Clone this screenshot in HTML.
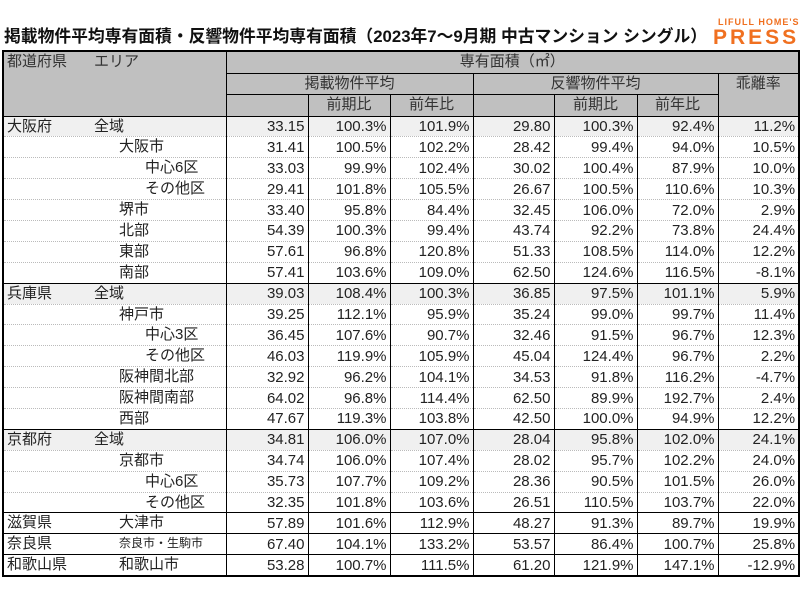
<!DOCTYPE html>
<html><head><meta charset="utf-8"><style>
body{margin:0;width:800px;height:600px;background:#fff;position:relative;overflow:hidden;font-family:"Liberation Sans","Noto Sans CJK JP",sans-serif;color:#222}
.title{position:absolute;left:4px;top:23px;font-size:16.8px;font-weight:bold;color:#111;white-space:nowrap;letter-spacing:0px}
.logo1{position:absolute;left:718px;top:17px;font-size:9px;font-weight:bold;color:#f07020;letter-spacing:1px;white-space:nowrap;background:#fff}
.logo2{position:absolute;left:713px;top:27px;font-size:21px;line-height:22px;font-weight:bold;color:#f07020;letter-spacing:3px;background:#fff}
table{position:absolute;left:2px;top:50px;border-collapse:collapse;table-layout:fixed;width:796px;border:2px solid #000;font-size:15px}
td{padding:0 3px;white-space:nowrap;overflow:hidden;border-left:1px solid #000;text-align:right;height:19.9px;line-height:19px;border-top:1px dotted #bbb}
tr.h td{background:#c0c0c0;text-align:center;border:1px solid #000;height:20.5px;line-height:20px;color:#333}
td.l{position:relative;text-align:left;border-left:none;padding:0}
td.l span{position:absolute;top:0}
tr.g td{background:#f0f0f0;border-top:1px solid #000}
tr.s td{border-top:1px solid #000}
.p{left:3px}.a{left:90px}.b{left:115px}.c{left:141px}
</style></head><body>
<div class="title">掲載物件平均専有面積・反響物件平均専有面積（2023年7～9月期 中古マンション シングル）</div>
<div class="logo1">LIFULL HOME'S</div>
<div class="logo2">PRESS</div>
<table>
<colgroup><col style="width:223px"><col style="width:82px"><col style="width:82px"><col style="width:83px"><col style="width:81px"><col style="width:83px"><col style="width:81px"><col style="width:81px"></colgroup>
<tr class="h"><td rowspan="3" style="text-align:left;vertical-align:top;position:relative;padding:0"><span style="position:absolute;left:3px;top:0">都道府県</span><span style="position:absolute;left:90px;top:0">エリア</span></td><td colspan="7">専有面積（㎡）</td></tr>
<tr class="h"><td colspan="3">掲載物件平均</td><td colspan="3">反響物件平均</td><td rowspan="2" style="vertical-align:top">乖離率</td></tr>
<tr class="h"><td style="border-top:none"></td><td>前期比</td><td>前年比</td><td style="border-top:none"></td><td>前期比</td><td>前年比</td></tr>
<tr class="g"><td class="l"><span class="p">大阪府</span><span class="a">全域</span></td><td>33.15</td><td>100.3%</td><td>101.9%</td><td>29.80</td><td>100.3%</td><td>92.4%</td><td>11.2%</td></tr>
<tr><td class="l"><span class="b">大阪市</span></td><td>31.41</td><td>100.5%</td><td>102.2%</td><td>28.42</td><td>99.4%</td><td>94.0%</td><td>10.5%</td></tr>
<tr><td class="l"><span class="c">中心6区</span></td><td>33.03</td><td>99.9%</td><td>102.4%</td><td>30.02</td><td>100.4%</td><td>87.9%</td><td>10.0%</td></tr>
<tr><td class="l"><span class="c">その他区</span></td><td>29.41</td><td>101.8%</td><td>105.5%</td><td>26.67</td><td>100.5%</td><td>110.6%</td><td>10.3%</td></tr>
<tr><td class="l"><span class="b">堺市</span></td><td>33.40</td><td>95.8%</td><td>84.4%</td><td>32.45</td><td>106.0%</td><td>72.0%</td><td>2.9%</td></tr>
<tr><td class="l"><span class="b">北部</span></td><td>54.39</td><td>100.3%</td><td>99.4%</td><td>43.74</td><td>92.2%</td><td>73.8%</td><td>24.4%</td></tr>
<tr><td class="l"><span class="b">東部</span></td><td>57.61</td><td>96.8%</td><td>120.8%</td><td>51.33</td><td>108.5%</td><td>114.0%</td><td>12.2%</td></tr>
<tr><td class="l"><span class="b">南部</span></td><td>57.41</td><td>103.6%</td><td>109.0%</td><td>62.50</td><td>124.6%</td><td>116.5%</td><td>-8.1%</td></tr>
<tr class="g"><td class="l"><span class="p">兵庫県</span><span class="a">全域</span></td><td>39.03</td><td>108.4%</td><td>100.3%</td><td>36.85</td><td>97.5%</td><td>101.1%</td><td>5.9%</td></tr>
<tr><td class="l"><span class="b">神戸市</span></td><td>39.25</td><td>112.1%</td><td>95.9%</td><td>35.24</td><td>99.0%</td><td>99.7%</td><td>11.4%</td></tr>
<tr><td class="l"><span class="c">中心3区</span></td><td>36.45</td><td>107.6%</td><td>90.7%</td><td>32.46</td><td>91.5%</td><td>96.7%</td><td>12.3%</td></tr>
<tr><td class="l"><span class="c">その他区</span></td><td>46.03</td><td>119.9%</td><td>105.9%</td><td>45.04</td><td>124.4%</td><td>96.7%</td><td>2.2%</td></tr>
<tr><td class="l"><span class="b">阪神間北部</span></td><td>32.92</td><td>96.2%</td><td>104.1%</td><td>34.53</td><td>91.8%</td><td>116.2%</td><td>-4.7%</td></tr>
<tr><td class="l"><span class="b">阪神間南部</span></td><td>64.02</td><td>96.8%</td><td>114.4%</td><td>62.50</td><td>89.9%</td><td>192.7%</td><td>2.4%</td></tr>
<tr><td class="l"><span class="b">西部</span></td><td>47.67</td><td>119.3%</td><td>103.8%</td><td>42.50</td><td>100.0%</td><td>94.9%</td><td>12.2%</td></tr>
<tr class="g"><td class="l"><span class="p">京都府</span><span class="a">全域</span></td><td>34.81</td><td>106.0%</td><td>107.0%</td><td>28.04</td><td>95.8%</td><td>102.0%</td><td>24.1%</td></tr>
<tr><td class="l"><span class="b">京都市</span></td><td>34.74</td><td>106.0%</td><td>107.4%</td><td>28.02</td><td>95.7%</td><td>102.2%</td><td>24.0%</td></tr>
<tr><td class="l"><span class="c">中心6区</span></td><td>35.73</td><td>107.7%</td><td>109.2%</td><td>28.36</td><td>90.5%</td><td>101.5%</td><td>26.0%</td></tr>
<tr><td class="l"><span class="c">その他区</span></td><td>32.35</td><td>101.8%</td><td>103.6%</td><td>26.51</td><td>110.5%</td><td>103.7%</td><td>22.0%</td></tr>
<tr class="s"><td class="l"><span class="p">滋賀県</span><span class="b">大津市</span></td><td>57.89</td><td>101.6%</td><td>112.9%</td><td>48.27</td><td>91.3%</td><td>89.7%</td><td>19.9%</td></tr>
<tr class="s"><td class="l"><span class="p">奈良県</span><span class="b" style="font-size:12px">奈良市・生駒市</span></td><td>67.40</td><td>104.1%</td><td>133.2%</td><td>53.57</td><td>86.4%</td><td>100.7%</td><td>25.8%</td></tr>
<tr class="s"><td class="l"><span class="p">和歌山県</span><span class="b">和歌山市</span></td><td>53.28</td><td>100.7%</td><td>111.5%</td><td>61.20</td><td>121.9%</td><td>147.1%</td><td>-12.9%</td></tr>
</table>
</body></html>
